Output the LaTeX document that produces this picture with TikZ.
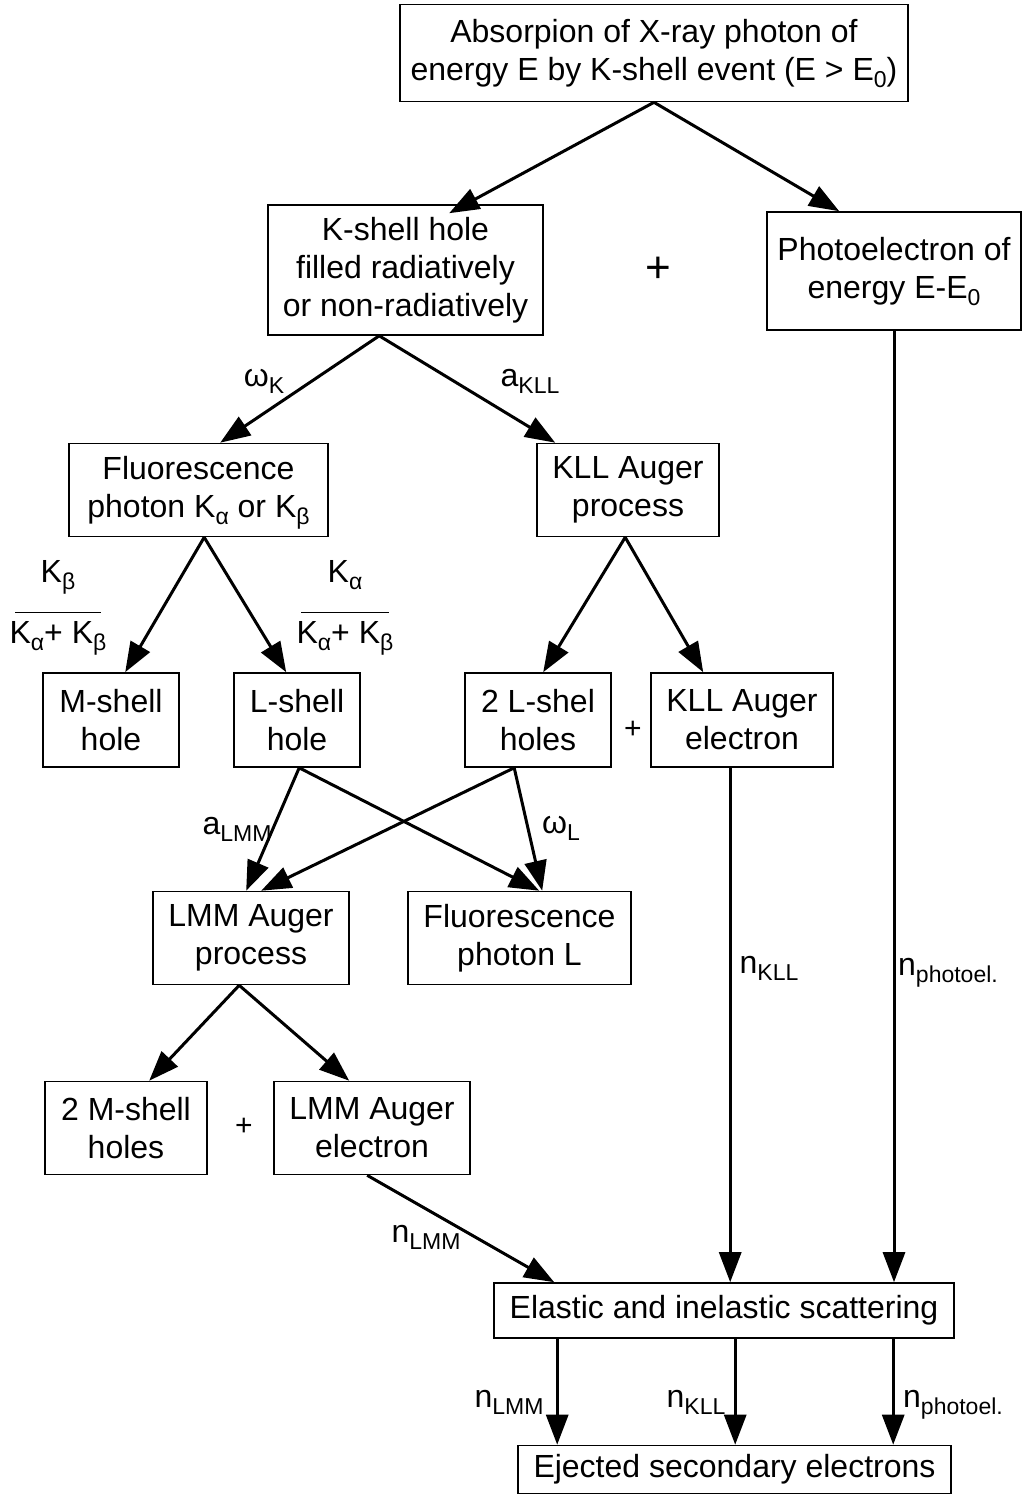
\documentclass[tikz,border=0pt]{standalone}
\usepackage{fontspec}
\setmainfont{Liberation Sans}
\usetikzlibrary{arrows.meta}

% 低位下标
\newcommand{\lowsub}[1]{\raisebox{-3.5pt}[0pt][0pt]{\fontsize{11.5}{11.5}\selectfont #1}}

\tikzset{
  box/.style={draw, line width=0.8pt, align=center, inner sep=0pt, font=\fontsize{16}{19}\selectfont},
  arr/.style={-{Triangle[length=15pt,width=11pt]}, line width=1.5pt},
  lab/.style={inner sep=0pt, font=\fontsize{16}{19}\selectfont},
  frac/.style={inner sep=0pt, align=center, font=\fontsize{16}{15.25}\selectfont},
}

\begin{document}
\begin{tikzpicture}[x=0.5pt, y=-0.5pt]
    \useasboundingbox (0,0) rectangle (1023,1494);

    % 方框: 名称/x/y/宽/高/文字
    \foreach \n/\x/\y/\w/\h/\t in {
        top/654/53/254/48.5/{Absorpion of X-ray photon of\\energy E by K-shell event (E > E\lowsub{0})},
        kshell/405.5/270/137.5/65/{K-shell hole\\filled radiatively\\or non-radiatively},
        photo/894/271/127/59/{Photoelectron of\\energy E-E\lowsub{0}},
        fluor/198.5/490/129.5/46.5/{Fluorescence\\photon K\lowsub{α} or K\lowsub{β}},
        kllproc/628/490/91/46.5/{KLL Auger\\process},
        mhole/111/720/68/47/{M-shell\\hole},
        lhole/297/720/63/47/{L-shell\\hole},
        llholes/538/720/73/47/{2 L-shel\\holes},
        kllel/742/720/91/47/{KLL Auger\\electron},
        lmmproc/251/938/98/46.5/{LMM Auger\\process},
        fluorL/519.5/938/111.5/46.5/{Fluorescence\\photon L},
        mmholes/126/1128/81/46.5/{2 M-shell\\holes},
        lmmel/372/1128/98/46.5/{LMM Auger\\electron},
        scat/724/1310.5/230/27.5/{Elastic and inelastic scattering},
        eject/734.5/1469.5/216.5/24/{Ejected secondary electrons}%
    } {
        \node[box, minimum width=\w pt, minimum height=\h pt] (\n) at (\x,\y) {\t};
    }

    % 加号
    \node[lab, font=\fontsize{22}{22}\selectfont] (plusA) at (658,270) {+};
    \node[lab, font=\fontsize{15}{15}\selectfont] (plusB) at (633,730) {+};
    \node[lab, font=\fontsize{15}{15}\selectfont] (plusC) at (244,1127) {+};

    % 第一层箭头
    \draw[arr] (top.south) -- ([shift={(182,9)}]kshell.north west);
    \draw[arr] (top.south) -- ([shift={(73,0)}]photo.north west);
    \draw[arr] ([shift={(112,0)}]kshell.south west) -- ([shift={(152,0)}]fluor.north west);
    \draw[arr] ([shift={(112,0)}]kshell.south west) -- ([shift={(19,0)}]kllproc.north west);

    % K 层空穴之后
    \draw[arr] ([shift={(136,0)}]fluor.south west) -- ([shift={(83,0)}]mhole.north west);
    \draw[arr] ([shift={(136,0)}]fluor.south west) -- ([shift={(53,0)}]lhole.north west);
    \draw[arr] ([shift={(89,0)}]kllproc.south west) -- ([shift={(79,0)}]llholes.north west);
    \draw[arr] ([shift={(89,0)}]kllproc.south west) -- ([shift={(53,0)}]kllel.north west);

    % L 层空穴交叉箭头
    \draw[arr] ([shift={(66,0)}]lhole.south west) -- ([shift={(94,0)}]lmmproc.north west);
    \draw[arr] ([shift={(66,0)}]lhole.south west) -- ([shift={(132,0)}]fluorL.north west);
    \draw[arr] ([shift={(50,0)}]llholes.south west) -- ([shift={(109,0)}]lmmproc.north west);
    \draw[arr] ([shift={(50,0)}]llholes.south west) -- ([shift={(135,0)}]fluorL.north west);

    % LMM 过程
    \draw[arr] ([shift={(87,0)}]lmmproc.south west) -- ([shift={(105,0)}]mmholes.north west);
    \draw[arr] ([shift={(87,0)}]lmmproc.south west) -- ([shift={(76,0)}]lmmel.north west);

    % 进入散射
    \draw[arr] ([shift={(94,0)}]lmmel.south west) -- ([shift={(61,0)}]scat.north west);
    \path ([shift={(80,0)}]kllel.south west) coordinate (k0);
    \draw[arr] (k0) -- (k0 |- scat.north);
    \draw[arr] (photo.south) -- (photo.south |- scat.north);

    % 散射到出射电子
    \foreach \d/\m in {64/1, 242/2, 400/3} {
        \path ([shift={(\d,0)}]scat.south west) coordinate (s\m);
        \draw[arr] (s\m) -- (s\m |- eject.north);
    }

    % 标注
    \node[lab] (wK) at (264,378) {ω\lowsub{K}};
    \node[lab] (aKLL) at (530,378) {a\lowsub{KLL}};
    \node[frac] (fracB) at (58,602) {K\lowsub{β}\\\rule{43pt}{0.7pt}\\K\lowsub{α}+ K\lowsub{β}};
    \node[frac] (fracA) at (345,602) {K\lowsub{α}\\\rule{44pt}{0.7pt}\\K\lowsub{α}+ K\lowsub{β}};
    \node[lab] (aLMM) at (237,826) {a\lowsub{LMM}};
    \node[lab] (wL) at (561,825) {ω\lowsub{L}};
    \node[lab] (nKLLa) at (769,965) {n\lowsub{KLL}};
    \node[lab] (nPha) at (948,967) {n\lowsub{photoel.}};
    \node[lab] (nLMMa) at (426,1234) {n\lowsub{LMM}};
    \node[lab] (nLMMb) at (509,1399) {n\lowsub{LMM}};
    \node[lab] (nKLLb) at (696,1399) {n\lowsub{KLL}};
    \node[lab] (nPhb) at (953,1399) {n\lowsub{photoel.}};

\end{tikzpicture}
\end{document}
